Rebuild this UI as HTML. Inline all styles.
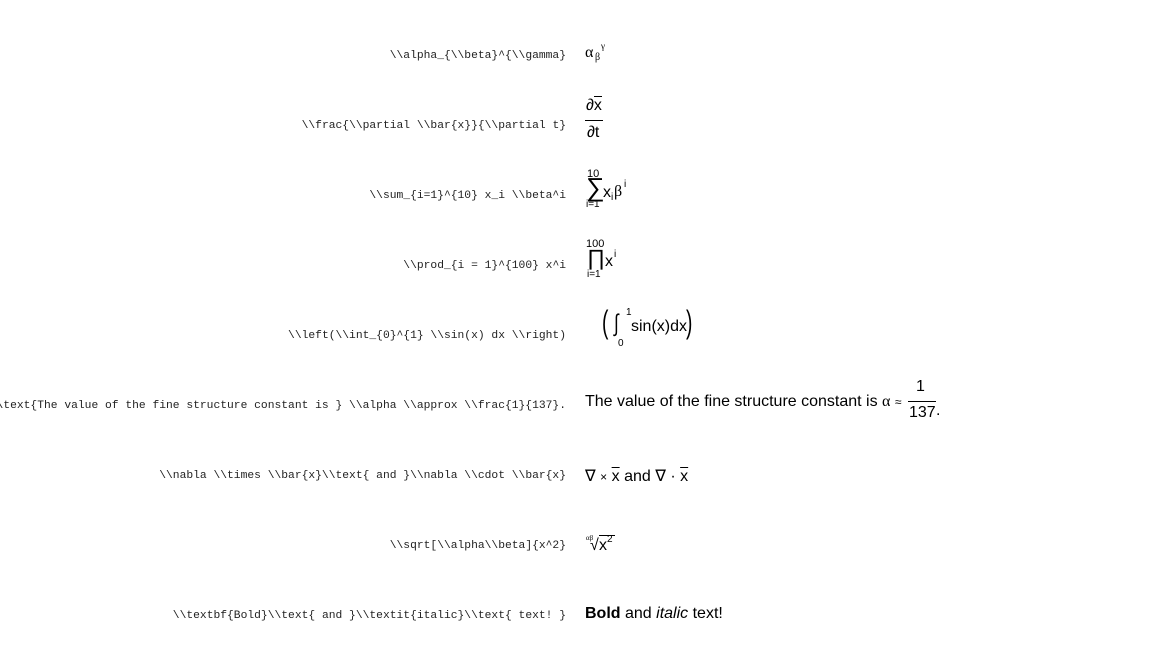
<!DOCTYPE html>
<html><head><meta charset="utf-8"><style>
body{margin:0;width:1152px;height:672px;background:#fff;overflow:hidden;position:relative;font-family:"Liberation Sans",sans-serif;color:#000}
.l{position:absolute;right:586px;font-family:"Liberation Mono",monospace;font-size:11.3px;white-space:pre;color:#222;line-height:14px}
.r{position:absolute;left:585px;font-size:16px;white-space:pre;line-height:18px}
.a{position:absolute;white-space:pre}
.ser{font-family:"Liberation Serif",serif}
.ob{text-decoration:overline}
</style></head><body>
<div class="l" style="top:49px">\\alpha_{\\beta}^{\\gamma}</div>
<div class="l" style="top:119px">\\frac{\\partial \\bar{x}}{\\partial t}</div>
<div class="l" style="top:189px">\\sum_{i=1}^{10} x_i \\beta^i</div>
<div class="l" style="top:259px">\\prod_{i = 1}^{100} x^i</div>
<div class="l" style="top:329px">\\left(\\int_{0}^{1} \\sin(x) dx \\right)</div>
<div class="l" style="top:399px">\\text{The value of the fine structure constant is } \\alpha \\approx \\frac{1}{137}.</div>
<div class="l" style="top:469px">\\nabla \\times \\bar{x}\\text{ and }\\nabla \\cdot \\bar{x}</div>
<div class="l" style="top:539px">\\sqrt[\\alpha\\beta]{x^2}</div>
<div class="l" style="top:609px">\\textbf{Bold}\\text{ and }\\textit{italic}\\text{ text! }</div>

<!-- row1 -->
<div class="a ser" style="left:585px;top:44px;font-size:16px">α</div>
<div class="a ser" style="left:595px;top:52px;font-size:10px">β</div>
<div class="a ser" style="left:601px;top:41px;font-size:9px">γ</div>
<!-- row2 -->
<div class="a" style="left:586px;top:97px;font-size:16px">∂<span style="border-top:1.3px solid #000">x</span></div>
<div class="a" style="left:585px;top:120px;width:18px;border-top:1px solid #000"></div>
<div class="a" style="left:587px;top:124px;font-size:16px">∂t</div>
<!-- row3 -->
<div class="a" style="left:587px;top:168px;font-size:11px">10</div>
<div class="a" style="left:586px;top:174px;font-size:26px;line-height:26px">∑</div>
<div class="a" style="left:586px;top:199px;font-size:10px">i=1</div>
<div class="a" style="left:603px;top:184px;font-size:16px">x</div>
<div class="a" style="left:611px;top:192px;font-size:10px">i</div>
<div class="a ser" style="left:614px;top:183px;font-size:16px">β</div>
<div class="a" style="left:624px;top:179px;font-size:10px">i</div>
<!-- row4 -->
<div class="a" style="left:586px;top:238px;font-size:11px">100</div>
<div class="a" style="left:587px;top:247px;font-size:22px;line-height:22px">∏</div>
<div class="a" style="left:587px;top:269px;font-size:10px">i=1</div>
<div class="a" style="left:605px;top:253px;font-size:16px">x</div>
<div class="a" style="left:614px;top:249px;font-size:10px">i</div>
<!-- row5 -->
<div class="a" style="left:602px;top:304px;font-size:32px;transform:scaleX(0.6);transform-origin:left">(</div>
<div class="a" style="left:613px;top:310px;font-size:24px;font-style:italic;line-height:28px;transform:scaleX(0.7)">∫</div>
<div class="a" style="left:626px;top:307px;font-size:10px">1</div>
<div class="a" style="left:618px;top:338px;font-size:10px">0</div>
<div class="a" style="left:631px;top:318px;font-size:16px">sin(x)dx</div>
<div class="a" style="left:686px;top:304px;font-size:32px;transform:scaleX(0.6);transform-origin:left">)</div>
<!-- row6 -->
<div class="a" style="left:585px;top:393px;font-size:16px">The value of the fine structure constant is <span class="ser">α</span> <span style="font-size:12px">≈</span></div>
<div class="a" style="left:916px;top:378px;font-size:16px">1</div>
<div class="a" style="left:908px;top:401px;width:28px;border-top:1px solid #000"></div>
<div class="a" style="left:909px;top:404px;font-size:16px">137</div>
<div class="a" style="left:936px;top:402px;font-size:16px">.</div>
<!-- row7 -->
<div class="a" style="left:585px;top:466px;font-size:16px">∇ <span style="font-size:12px">×</span> <span class="ob">x</span> and ∇ · <span class="ob">x</span></div>
<!-- row8 -->
<div class="a ser" style="left:586px;top:534px;font-size:7px">αβ</div>
<div class="a" style="left:590px;top:537px;font-size:16px">√</div>
<div class="a" style="left:599px;top:535px;width:16px;border-top:1px solid #000"></div>
<div class="a" style="left:599px;top:537px;font-size:16px">x</div>
<div class="a" style="left:607px;top:534px;font-size:10px">2</div>
<!-- row9 -->
<div class="a" style="left:585px;top:605px;font-size:16px"><b>Bold</b> and <i>italic</i> text!</div>
</body></html>
